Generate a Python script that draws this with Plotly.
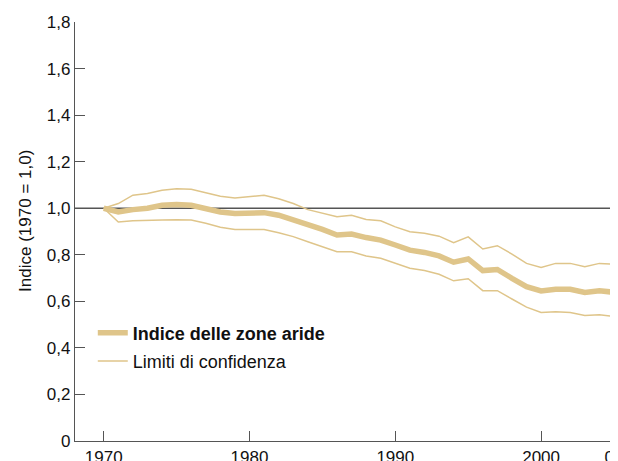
import plotly.graph_objects as go

years = list(range(1970, 2006))
indice = [1.000, 0.984, 0.994, 1.000, 1.013, 1.016, 1.013, 0.999, 0.984, 0.977,
          0.977, 0.981, 0.970, 0.951, 0.932, 0.909, 0.885, 0.889, 0.874, 0.863,
          0.842, 0.820, 0.810, 0.795, 0.768, 0.782, 0.732, 0.737, 0.699, 0.663,
          0.645, 0.652, 0.652, 0.638, 0.645, 0.639]
upper = [1.000, 1.020, 1.056, 1.063, 1.077, 1.084, 1.081, 1.066, 1.051, 1.044,
         1.051, 1.056, 1.041, 1.020, 0.994, 0.977, 0.963, 0.970, 0.952, 0.946,
         0.920, 0.899, 0.892, 0.880, 0.852, 0.877, 0.825, 0.839, 0.803, 0.763,
         0.746, 0.763, 0.763, 0.749, 0.763, 0.760]
lower = [1.000, 0.941, 0.946, 0.946, 0.949, 0.951, 0.949, 0.935, 0.918, 0.909,
         0.909, 0.909, 0.895, 0.878, 0.856, 0.835, 0.813, 0.813, 0.795, 0.785,
         0.763, 0.742, 0.732, 0.716, 0.688, 0.697, 0.646, 0.646, 0.610, 0.575,
         0.552, 0.555, 0.552, 0.539, 0.542, 0.535]

x_tickvals = [1970, 1980, 1990, 2000, 2005]
x_ticktext = ["1970", "1980", "1990", "2000", "05"]
y_tickvals = [0, 0.2, 0.4, 0.6, 0.8, 1.0, 1.2, 1.4, 1.6, 1.8]
y_ticktext = ["0", "0,2", "0,4", "0,6", "0,8", "1,0", "1,2", "1,4", "1,6", "1,8"]

GOLD = "#dfc58a"
AXIS = "#555555"
FONT = "Liberation Sans, Arial, sans-serif"

fig = go.Figure()
fig.add_trace(go.Scatter(x=years, y=indice, mode="lines", name="<b>Indice delle zone aride</b>",
                         line=dict(color=GOLD, width=5.5), legendgroup="a"))
fig.add_trace(go.Scatter(x=years, y=upper, mode="lines", name="Limiti di confidenza",
                         line=dict(color=GOLD, width=1.5), legendgroup="b"))
fig.add_trace(go.Scatter(x=years, y=lower, mode="lines", name="Limiti di confidenza",
                         line=dict(color=GOLD, width=1.5), showlegend=False, legendgroup="b"))

fig.add_shape(type="line", xref="paper", x0=0, x1=1, yref="y", y0=1.0, y1=1.0,
              line=dict(color=AXIS, width=1.4), layer="below")

fig.add_annotation(text="Indice (1970 = 1,0)", textangle=-90, xref="paper", yref="paper",
                   x=-0.093, y=0.525, showarrow=False, xanchor="center", yanchor="middle",
                   font=dict(size=17, color="#111", family=FONT))

fig.update_layout(
    width=610, height=453,
    template="none",
    paper_bgcolor="white", plot_bgcolor="white",
    margin=dict(l=67, r=4, t=14, b=20, pad=0),
    font=dict(family=FONT, size=17, color="#111"),
    showlegend=True,
    legend=dict(x=0.033, y=0.302, xanchor="left", yanchor="top",
                bgcolor="rgba(0,0,0,0)", font=dict(size=18, family=FONT, color="#111"),
                traceorder="grouped", tracegroupgap=2, itemwidth=30),
)
fig.update_xaxes(range=[1968.03, 2005], tickvals=x_tickvals, ticktext=x_ticktext,
                 ticks="inside", ticklen=10, tickwidth=1.3, tickcolor=AXIS,
                 showline=True, linecolor=AXIS, linewidth=1.4, showgrid=False,
                 zeroline=False, automargin=False, tickfont=dict(size=17),
                 ticklabeloverflow="allow")
fig.update_yaxes(range=[0, 1.8], tickvals=y_tickvals, ticktext=y_ticktext,
                 ticks="inside", ticklen=10, tickwidth=1.3, tickcolor=AXIS,
                 showline=True, linecolor=AXIS, linewidth=1.4, showgrid=False,
                 zeroline=False, automargin=False, tickfont=dict(size=17))

fig.write_html("out.html")
